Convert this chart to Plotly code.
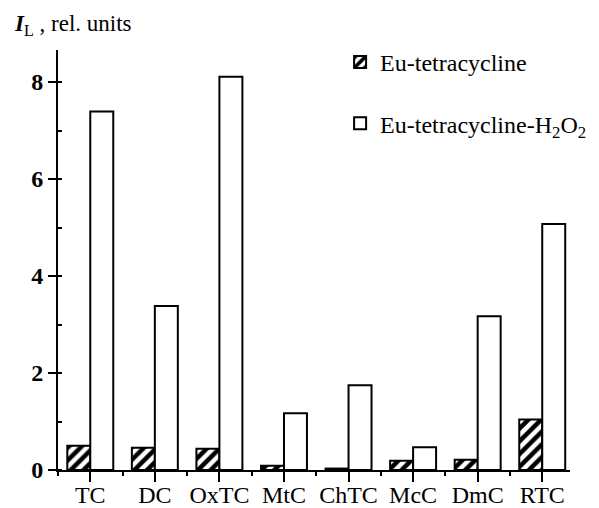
import numpy as np
import plotly.graph_objects as go

categories = ["TC", "DC", "OxTC", "MtC", "ChTC", "McC", "DmC", "RTC"]
eu_tc = [0.50, 0.46, 0.44, 0.09, 0.03, 0.19, 0.21, 1.04]
eu_tc_h2o2 = [7.39, 3.38, 8.11, 1.17, 1.75, 0.47, 3.17, 5.07]
y_ticks = [0, 2, 4, 6, 8]

x = np.arange(len(categories))
FONT = "Liberation Serif, Times New Roman, serif"

fig = go.Figure()
fig.add_trace(go.Bar(
    x=x, y=eu_tc, name="Eu-tetracycline", legendgroup="a",
    marker=dict(color="white", line=dict(color="black", width=2),
                pattern=dict(shape="/", fgcolor="black", bgcolor="white",
                             size=9, solidity=0.5, fgopacity=1)),
))
fig.add_trace(go.Bar(
    x=x, y=eu_tc_h2o2, name="Eu-tetracycline-H<sub>2</sub>O<sub>2</sub>", legendgroup="b",
    marker=dict(color="white", line=dict(color="black", width=2)),
))

# page body adds an 8 px offset, so the figure is 8 px smaller and margins shifted
fig.update_layout(
    template="none",
    width=591, height=500,
    margin=dict(l=50, r=29, t=42, b=38, autoexpand=False),
    paper_bgcolor="white", plot_bgcolor="white",
    barmode="group", bargap=0.288, bargroupgap=0,
    font=dict(family=FONT, size=24, color="black"),
    showlegend=True,
    legend=dict(x=0.551, y=1.024, xanchor="left", yanchor="top",
                bgcolor="rgba(0,0,0,0)", traceorder="grouped", tracegroupgap=27,
                font=dict(family=FONT, size=24)),
    xaxis=dict(
        range=[-0.5, 7.43], tickvals=x, ticktext=categories, automargin=False,
        showline=True, linecolor="black", linewidth=2,
        ticks="outside", ticklen=10, tickwidth=2, tickcolor="black",
        ticklabelstandoff=-8,
        minor=dict(tick0=0.5, dtick=1, ticks="outside", ticklen=4, tickwidth=2, tickcolor="black"),
        showgrid=False, zeroline=False,
        tickfont=dict(family=FONT, size=24),
    ),
    yaxis=dict(
        range=[0, 8.66], tickvals=y_ticks, ticktext=[f"<b>{v}</b>" for v in y_ticks],
        automargin=False,
        showline=True, linecolor="black", linewidth=2,
        ticks="outside", ticklen=8, tickwidth=2, tickcolor="black",
        minor=dict(dtick=1, ticks="inside", ticklen=4, tickwidth=2, tickcolor="black"),
        showgrid=False, zeroline=False,
        tickfont=dict(family=FONT, size=24),
    ),
    annotations=[dict(
        text="<b><i>I</i></b><sub>L</sub> , rel. units",
        xref="paper", yref="paper", x=-0.09, y=1.06,
        xanchor="left", yanchor="middle", showarrow=False,
        font=dict(family=FONT, size=23, color="black"),
    )],
)

fig.write_html("out.html")
